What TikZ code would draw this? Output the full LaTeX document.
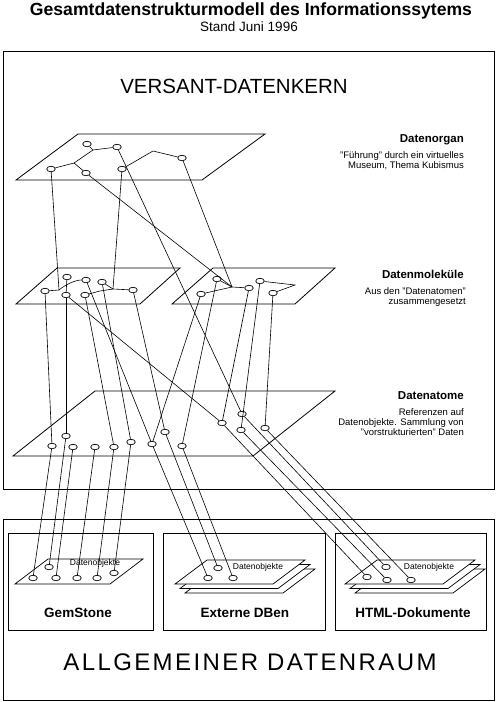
\documentclass[tikz,border=0pt]{standalone}
\usepackage{fontspec}
\setmainfont{Liberation Sans}
\usetikzlibrary{shapes.geometric}
\tikzset{
  dot/.style={ellipse, draw, fill=white, line width=0.7pt, minimum width=8.5pt, minimum height=5.5pt, inner sep=0pt},
  link/.style={line width=0.6pt},
  plane/.style={line width=0.8pt},
  frame/.style={line width=0.9pt},
  sheet/.style={line width=0.7pt, fill=white},
  head/.style={font=\bfseries\fontsize{11.5}{13}\selectfont, anchor=east, inner sep=0pt},
  desc/.style={font=\fontsize{9.5}{10}\selectfont, anchor=north east, align=right, inner sep=0pt},
  boxlabel/.style={font=\bfseries\fontsize{13.5}{15}\selectfont, inner sep=0pt},
  objlabel/.style={font=\fontsize{8.5}{9}\selectfont, inner sep=0pt}
}
\begin{document}
\begin{tikzpicture}[x=1pt,y=-1pt]
\useasboundingbox (0,0) rectangle (498,702);
% frames
\draw[frame] (3,51) rectangle (494,489);
\draw[frame] (3,519) rectangle (494,700);
\draw[frame] (8,533) rectangle (153,630);
\draw[frame] (163,533) rectangle (325,630);
\draw[frame] (335,533) rectangle (486,630);
% planes
\draw[plane] (78,134) -- (265,134) -- (202,180) -- (16,180) -- cycle;
\draw[plane] (57,268) -- (180,268) -- (140,304) -- (16,304) -- cycle;
\draw[plane] (213,268) -- (335,268) -- (295,304) -- (172,304) -- cycle;
\draw[plane] (95,391) -- (335,391) -- (253,456) -- (13,456) -- cycle;
% data object sheets
\draw[sheet] (48,559) -- (143,559) -- (110,584) -- (15,584) -- cycle;
\foreach \k in {2,1,0} {
  \draw[sheet, shift={(5*\k,4.5*\k)}] (207,560) -- (305,560) -- (273,584) -- (175,584) -- cycle;
  \draw[sheet, shift={(5*\k,4.5*\k)}] (377,560) -- (475,560) -- (443,584) -- (345,584) -- cycle;
}
% titles
\node[font=\bfseries\fontsize{17.6}{20}\selectfont, inner sep=0pt] (title) at (251,11) {Gesamtdatenstrukturmodell des Informationssytems};
\node[font=\fontsize{13.5}{15}\selectfont, inner sep=0pt] (subtitle) at (249,27) {Stand Juni 1996};
\node[font=\fontsize{20.5}{22}\selectfont, inner sep=0pt] (kern) at (234,86) {VERSANT-DATENKERN};
\node[font=\fontsize{24}{26}\selectfont\addfontfeature{LetterSpace=10}, inner sep=0pt] (raum) at (250,662) {ALLGEMEINER DATENRAUM};
% level labels
\node[head] (hOrgan) at (464,140) {Datenorgan};
\node[desc] (dOrgan) at (464,151) {"Führung" durch ein virtuelles\\Museum, Thema Kubismus};
\node[head] (hMol) at (464,274) {Datenmoleküle};
\node[desc] (dMol) at (466,287) {Aus den "Datenatomen"\\zusammengesetzt};
\node[head] (hAtom) at (464,396) {Datenatome};
\node[desc] (dAtom) at (464,408) {Referenzen auf\\Datenobjekte. Sammlung von\\"vorstrukturierten" Daten};
% box labels
\node[boxlabel] (lGem) at (78,613) {GemStone};
\node[boxlabel] (lExt) at (245,613) {Externe DBen};
\node[boxlabel] (lHtml) at (413,613) {HTML-Dokumente};
\node[objlabel] (oGem) at (95,563) {Datenobjekte};
\node[objlabel] (oExt) at (258,567) {Datenobjekte};
\node[objlabel] (oHtml) at (429,567) {Datenobjekte};
% organ nodes
\node[dot] (o1) at (87,144) {};
\node[dot] (o2) at (117,147) {};
\node[dot] (o3) at (51,169) {};
\node[dot] (o4) at (86,173) {};
\node[dot] (o5) at (122,169) {};
\node[dot] (o6) at (182,158) {};
\coordinate (oj1) at (93,150);
\coordinate (oj2) at (74,163);
\coordinate (oj3) at (153,151);
% molecule nodes (left)
\node[dot] (m1) at (45,291) {};
\node[dot] (m2) at (67,277) {};
\node[dot] (m3) at (66,295) {};
\node[dot] (m4) at (86,280) {};
\node[dot] (m5) at (85,295) {};
\node[dot] (m6) at (102,282) {};
\node[dot] (m7) at (133,290) {};
\coordinate (mj1) at (59,290);
\coordinate (mj2) at (113,289);
\coordinate (mb) at (100,291);
% molecule nodes (right)
\node[dot] (r1) at (217,279) {};
\node[dot] (r2) at (201,294) {};
\node[dot] (r3) at (249,288) {};
\node[dot] (r4) at (260,281) {};
\node[dot] (r5) at (273,293) {};
\coordinate (rj) at (232,287);
\coordinate (rt) at (295,285);
% atoms
\node[dot] (a1) at (52,446) {};
\node[dot] (a2) at (66,436) {};
\node[dot] (a3) at (73,447) {};
\node[dot] (a4) at (95,447) {};
\node[dot] (a5) at (114,447) {};
\node[dot] (a6) at (131,442) {};
\node[dot] (a7) at (152,444) {};
\node[dot] (a8) at (165,432) {};
\node[dot] (a9) at (182,446) {};
\node[dot] (a10) at (222,423) {};
\node[dot] (a11) at (242,414) {};
\node[dot] (a12) at (241,430) {};
\node[dot] (a13) at (265,428) {};
% data objects
\node[dot] (g1) at (33,578) {};
\node[dot] (g2) at (49,567) {};
\node[dot] (g3) at (56,578) {};
\node[dot] (g4) at (77,578) {};
\node[dot] (g5) at (97,578) {};
\node[dot] (g6) at (114,573) {};
\node[dot] (e1) at (208,578) {};
\node[dot] (e2) at (218,568) {};
\node[dot] (e3) at (233,578) {};
\node[dot] (h1) at (367,577) {};
\node[dot] (h2) at (386,567) {};
\node[dot] (h3) at (387,580) {};
\node[dot] (h4) at (411,580) {};
% links within levels
\draw[link] (o1) -- (oj1) -- (o2);
\draw[link] (oj1) -- (oj2) -- (o3);
\draw[link] (oj2) -- (o4);
\draw[link] (o5) -- (oj3) -- (o6);
\draw[link] (m1) -- (mj1) .. controls (66,284) and (76,280) .. (m4);
\draw[link] (m2) -- (m3);
\draw[link] (m5) -- (mb) -- (mj2) -- (m7);
\draw[link] (m6) -- (mj2);
\draw[link] (r1) -- (rj) -- (r3);
\draw[link] (r2) -- (rj);
\draw[link] (r4) -- (rt) -- (r5);
% organ to molecules / atoms
\draw[link] (o3) -- (mj1);
\draw[link] (o5) -- (mj2);
\draw[link] (o4) -- (rj);
\draw[link] (o6) -- (rj);
\draw[link] (o2) -- (a11);
% molecules to atoms
\draw[link] (m1) -- (a1);
\draw[link] (m3) -- (a2);
\draw[link] (m5) -- (a5);
\draw[link] (m6) -- (a6);
\draw[link] (m4) -- (a7);
\draw[link] (r2) -- (a7);
\draw[link] (m7) -- (a8);
\draw[link] (r1) -- (a9);
\draw[link] (m3) -- (a10);
\draw[link] (r3) -- (a10);
\draw[link] (r4) -- (a12);
\draw[link] (r5) -- (a13);
% atoms to data objects
\draw[link] (a1) -- (g1);
\draw[link] (a2) -- (g2);
\draw[link] (a3) -- (g3);
\draw[link] (a4) -- (g4);
\draw[link] (a5) -- (g5);
\draw[link] (a6) -- (g6);
\draw[link] (a7) -- (e1);
\draw[link] (a8) -- (e2);
\draw[link] (a9) -- (e3);
\draw[link] (a10) -- (h1);
\draw[link] (a11) -- (h2);
\draw[link] (a12) -- (h3);
\draw[link] (a13) -- (h4);
\end{tikzpicture}
\end{document}
